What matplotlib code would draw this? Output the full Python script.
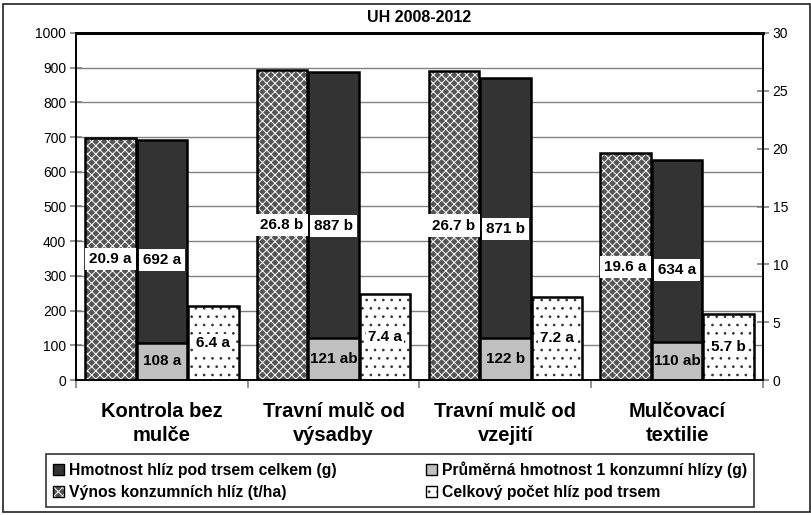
import matplotlib
matplotlib.use("Agg")
from matplotlib import pyplot as plt
from matplotlib.patches import Patch, Rectangle
from matplotlib.legend_handler import HandlerTuple
import numpy as np

plt.rcParams['font.family'] = ['Liberation Sans', 'DejaVu Sans']
plt.rcParams['hatch.linewidth'] = 0.7

# data
cats = ["Kontrola bez\nmulče", "Travní mulč od\nvýsadby", "Travní mulč od\nvzejití", "Mulčovací\ntextilie"]
vynos = [20.9, 26.8, 26.7, 19.6]          # t/ha, right axis
vynos_sig = ["a", "b", "b", "a"]
hmotnost = [692, 887, 871, 634]           # g, left axis
hmotnost_sig = ["a", "b", "b", "a"]
prumer = [108, 121, 122, 110]             # g, left axis
prumer_sig = ["a", "ab", "b", "ab"]
pocet = [6.4, 7.4, 7.2, 5.7]              # right axis
pocet_sig = ["a", "a", "a", "b"]

lab_vynos = "Výnos konzumních hlíz (t/ha)"
lab_hmot = "Hmotnost hlíz pod trsem celkem (g)"
lab_prum = "Průměrná hmotnost 1 konzumní hlízy (g)"
lab_poc = "Celkový počet hlíz pod trsem"

x = np.arange(len(cats))
w = 0.295
off = 0.3
cross_face = '#555555'
cross_hatch = 'xxxx'

fig = plt.figure(figsize=(8.12, 5.15), dpi=100)
ax = fig.add_axes([76/812, 1-380/515, (763-76)/812, (380-33)/515])
ax2 = ax.twinx()

ax.set_xlim(-0.5, 3.5)
ax.set_ylim(0, 1000)
ax2.set_ylim(0, 30)
ax.set_yticks(range(0, 1001, 100))
ax2.set_yticks(range(0, 31, 5))
ax.yaxis.grid(True, color='#808080', lw=1)
ax.set_axisbelow(True)

# dark bars + grey overlay (left axis)
ax.bar(x, hmotnost, w, color='#333333', edgecolor='black', lw=1.8, zorder=2)
ax.bar(x, prumer, w, color='#c0c0c0', edgecolor='black', lw=1.8, zorder=3)

# hatched bars on right axis
ax2.bar(x - off, vynos, w, color=cross_face, hatch=cross_hatch, edgecolor='white', lw=0, zorder=2)
ax2.bar(x - off, vynos, w, fill=False, edgecolor='black', lw=1.8, zorder=3)
ax2.bar(x + off, pocet, w, color='white', hatch='..', edgecolor='#333333', lw=0, zorder=2)
ax2.bar(x + off, pocet, w, fill=False, edgecolor='black', lw=1.8, zorder=3)

box = dict(facecolor='white', edgecolor='none', pad=3)
for i in range(len(cats)):
    ax2.text(x[i] - off, vynos[i] / 2, f"{vynos[i]} {vynos_sig[i]}", ha='center', va='center',
             fontsize=11, fontweight='bold', bbox=box, zorder=5)
    ax2.text(x[i], hmotnost[i] / 2 * 0.03, f"{hmotnost[i]} {hmotnost_sig[i]}", ha='center', va='center',
             fontsize=11, fontweight='bold', bbox=box, zorder=5)
    ax2.text(x[i], prumer[i] / 2 * 0.03, f"{prumer[i]} {prumer_sig[i]}", ha='center', va='center',
             fontsize=11, fontweight='bold', zorder=5)
    ax2.text(x[i] + off, pocet[i] / 2, f"{pocet[i]} {pocet_sig[i]}", ha='center', va='center',
             fontsize=11, fontweight='bold', bbox=dict(facecolor='white', edgecolor='none', pad=1.5), zorder=5)

# axes styling
for a in (ax, ax2):
    for s in a.spines.values():
        s.set_linewidth(1.2)
    a.spines['top'].set_linewidth(2)
ax.tick_params(axis='y', direction='inout', length=8, width=1.2, color='#808080', labelsize=10, pad=3)
ax2.tick_params(axis='y', direction='inout', length=8, width=1.2, color='#808080', labelsize=10, pad=3)
ax.set_xticks(np.arange(-0.5, 3.6, 1))
ax.set_xticklabels([])
ax.tick_params(axis='x', direction='out', length=6, width=1.2, color='#808080')
for i, c in enumerate(cats):
    ax.text(x[i], -0.062, c, transform=ax.get_xaxis_transform(), ha='center', va='top',
            fontsize=14.5, fontweight='bold', linespacing=1.35)

fig.text(0.5 * (76 + 763) / 812, 1 - 18/515, "UH 2008-2012", ha='center', va='center',
         fontsize=11.5, fontweight='bold')

# legend
h_hmot = Patch(facecolor='#333333', edgecolor='black')
h_vyn = (Patch(facecolor=cross_face, hatch=cross_hatch, edgecolor='white', lw=0),
         Patch(fill=False, edgecolor='black'))
h_prum = Patch(facecolor='#c0c0c0', edgecolor='black')
h_poc = (Patch(facecolor='white', hatch='..', edgecolor='#333333', lw=0),
         Patch(fill=False, edgecolor='black'))
leg = fig.legend([h_hmot, h_vyn, h_prum, h_poc], [lab_hmot, lab_vynos, lab_prum, lab_poc],
                 ncol=2, loc='upper left',
                 bbox_to_anchor=(46/812, 1-454/515),
                 handler_map={tuple: HandlerTuple(ndivide=1)},
                 prop={'size': 11.3, 'weight': 'bold'}, frameon=True, fancybox=False,
                 edgecolor='black', handlelength=0.7, handleheight=0.7, handletextpad=0.3,
                 borderpad=0.45, labelspacing=0.45, borderaxespad=0, columnspacing=5.7)
leg.get_frame().set_linewidth(1.2)

fig.patches.append(Rectangle((0.004, 0.005), 0.994, 0.988, transform=fig.transFigure,
                             fill=False, edgecolor='#222222', lw=1.2))

fig.savefig("out.png", dpi=100)
